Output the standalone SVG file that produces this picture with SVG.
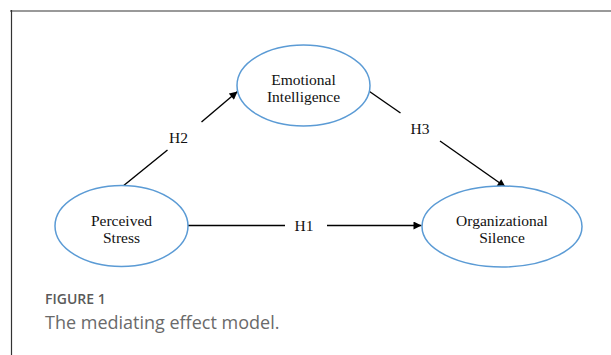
<svg xmlns="http://www.w3.org/2000/svg" width="611" height="355" viewBox="0 0 611 355">
<style>
.node ellipse{fill:#fff;stroke:#5b9bd5;stroke-width:1.5}
.node text,.lbl{font-family:"Liberation Serif","Times New Roman",serif;font-size:15.5px;fill:#111;text-anchor:middle}
.edge{stroke:#000;stroke-width:1.4;fill:none}
.cap1{font-family:"Open Sans",sans-serif;font-size:14px;font-weight:600;fill:#5a5a5a}
.cap2{font-family:"Open Sans",sans-serif;font-size:18px;fill:#6a6a6a}
</style>
<defs>
<marker id="arr" viewBox="0 0 10 10" refX="10" refY="5" markerWidth="9" markerHeight="8" orient="auto" markerUnits="userSpaceOnUse">
<path d="M0,0 L10,5 L0,10 z" fill="#000"/>
</marker>
</defs>
<rect width="611" height="355" fill="#fff"/>
<line x1="10" y1="11" x2="611" y2="11" stroke="#999" stroke-width="2"/>
<line x1="11.5" y1="10" x2="11.5" y2="355" stroke="#333" stroke-width="1.2"/>
<g id="connectors">
<line class="edge" x1="188" y1="225.5" x2="285" y2="225.5"/>
<line class="edge" x1="327" y1="225.5" x2="421.5" y2="225.5" marker-end="url(#arr)"/>
<text class="lbl" x="304" y="231">H1</text>
<line class="edge" x1="122.5" y1="186.5" x2="167.5" y2="150"/>
<line class="edge" x1="201.5" y1="122" x2="237.5" y2="91.5" marker-end="url(#arr)"/>
<text class="lbl" x="178.5" y="143">H2</text>
<line class="edge" x1="369.5" y1="91.5" x2="400.5" y2="113"/>
<line class="edge" x1="440" y1="141" x2="505.5" y2="187" marker-end="url(#arr)"/>
<text class="lbl" x="420" y="133.5">H3</text>
</g>
<g id="perceived-stress" class="node">
<ellipse cx="121.5" cy="226" rx="66.5" ry="40.5"/>
<text x="121.5" y="226">Perceived</text>
<text x="121.5" y="243">Stress</text>
</g>
<g id="emotional-intelligence" class="node">
<ellipse cx="303.5" cy="85.5" rx="66.5" ry="40.5"/>
<text x="303.5" y="85">Emotional</text>
<text x="303.5" y="102">Intelligence</text>
</g>
<g id="organizational-silence" class="node">
<ellipse cx="502" cy="226.5" rx="80" ry="40.5"/>
<text x="502" y="226">Organizational</text>
<text x="502" y="243">Silence</text>
</g>
<text class="cap1" x="45" y="303.5">FIGURE 1</text>
<text class="cap2" x="45" y="328.5">The mediating effect model.</text>
</svg>
